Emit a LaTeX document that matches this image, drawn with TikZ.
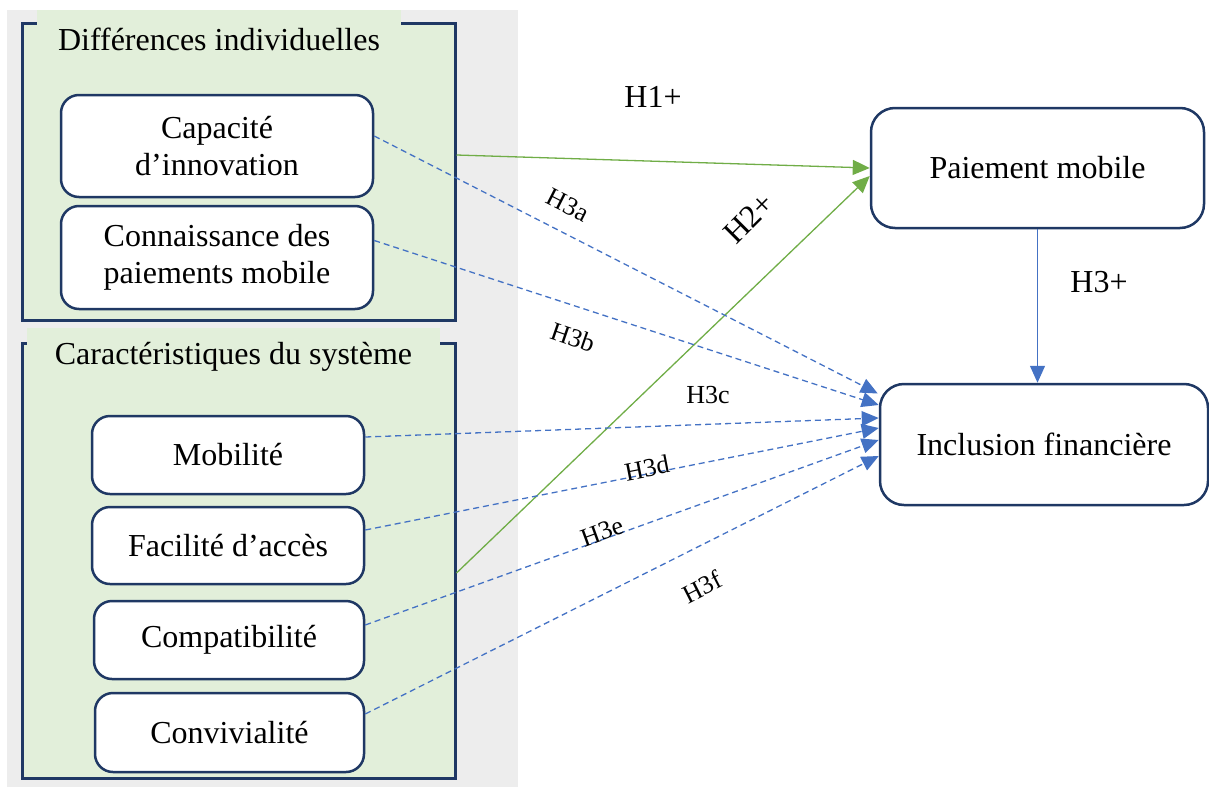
\documentclass[tikz,border=0pt]{standalone}
\usepackage{fontspec}
\setmainfont{Liberation Serif}
\usetikzlibrary{arrows.meta}
\definecolor{framenavy}{HTML}{1F3864}
\definecolor{panelgreen}{HTML}{E2EFDA}
\definecolor{panelgrey}{HTML}{EDEDED}
\definecolor{hypgreen}{HTML}{70AD47}
\definecolor{hypblue}{HTML}{4472C4}
\tikzset{
  panel/.style={
    draw=framenavy,
    line width=3pt,
    fill=panelgreen,
    inner sep=0pt
  },
  paneltitle/.style={
    fill=panelgreen,
    inner sep=0pt,
    font=\fontsize{32}{37}\selectfont
  },
  varbox/.style={
    draw=framenavy,
    line width=2.5pt,
    fill=white,
    rounded corners=18pt,
    align=center,
    inner sep=0pt,
    font=\fontsize{32}{37}\selectfont
  },
  hypgreenline/.style={
    draw=hypgreen,
    line width=1.3pt,
    -{Triangle[length=17pt,width=15pt]}
  },
  modline/.style={
    draw=hypblue,
    line width=1.3pt,
    dash pattern=on 6pt off 4pt,
    -{Triangle[length=17pt,width=15pt]}
  },
  linkline/.style={
    draw=hypblue,
    line width=1.3pt,
    -{Triangle[length=17pt,width=15pt]}
  },
  hyplabel/.style={font=\fontsize{32}{37}\selectfont, inner sep=0pt},
  sublabel/.style={font=\fontsize{26}{30}\selectfont, inner sep=0pt}
}

\begin{document}
\begin{tikzpicture}[x=1pt, y=-1pt]
  \useasboundingbox (0,0) rectangle (1209,787);
  \fill[panelgrey] (7,10) rectangle (518,787);

  % the two groups of variables
  \node[panel, minimum width=433pt, minimum height=297pt] (indiv) at (238.5,171.5) {};
  \node[paneltitle, minimum width=364pt, minimum height=58pt] (indivtitle) at (219,39) {Différences individuelles};
  \node[panel, minimum width=433pt, minimum height=435pt] (syst) at (238.5,560.5) {};
  \node[paneltitle, minimum width=413pt, minimum height=58pt] (systtitle) at (233.5,357) {Caractéristiques du système};

  \node[varbox, minimum width=312pt, minimum height=102pt] (capa) at (217,146) {Capacité\\d’innovation};
  \node[varbox, minimum width=312pt, minimum height=103pt] (conn) at (217,257.5) {Connaissance des\\paiements mobile};
  \node[varbox, minimum width=272pt, minimum height=78pt] (mobi) at (228,455) {Mobilité};
  \node[varbox, minimum width=272pt, minimum height=77pt] (faci) at (228,545.5) {Facilité d’accès};
  \node[varbox, minimum width=270pt, minimum height=78pt] (compa) at (229,640) {Compatibilité};
  \node[varbox, minimum width=269pt, minimum height=79pt] (convi) at (229.5,732.5) {Convivialité};

  % outcomes
  \node[varbox, rounded corners=24pt, minimum width=333pt, minimum height=120pt] (paie) at (1037.5,168) {Paiement mobile};
  \node[varbox, rounded corners=24pt, minimum width=328pt, minimum height=121pt] (incl) at (1044,444.5) {Inclusion financière};

  % hypotheses
  \draw[hypgreenline] ([yshift=16.5pt]indiv.east) -- (paie.west);
  \draw[hypgreenline] ([yshift=-12.5pt]syst.east) -- ([yshift=-8pt]paie.west);
  \draw[linkline] (paie.south) -- (paie.south |- incl.north);

  \draw[modline] ([yshift=10pt]capa.east) -- ([xshift=-1pt,yshift=51pt]incl.west);
  \draw[modline] ([yshift=17pt]conn.east) -- ([yshift=39.5pt]incl.west);
  \draw[modline] ([yshift=18pt]mobi.east) -- ([yshift=26.5pt]incl.west);
  \draw[modline] ([yshift=15.5pt]faci.east) -- ([yshift=16.5pt]incl.west);
  \draw[modline] ([yshift=15pt]compa.east) -- ([yshift=4.5pt]incl.west);
  \draw[modline] ([yshift=18.5pt]convi.east) -- ([yshift=-11.5pt]incl.west);

  \node[hyplabel] (lbone) at (653,97) {H1+};
  \node[hyplabel, rotate=45] (lbtwo) at (749,218) {H2+};
  \node[hyplabel] (lbthree) at (1099,282) {H3+};
  \node[sublabel, rotate=-27] (lba) at (568,205) {H3a};
  \node[sublabel, rotate=-19] (lbb) at (573,337) {H3b};
  \node[sublabel] (lbc) at (708,395) {H3c};
  \node[sublabel, rotate=11] (lbd) at (647,468) {H3d};
  \node[sublabel, rotate=20] (lbe) at (602,532) {H3e};
  \node[sublabel, rotate=27] (lbf) at (702,587) {H3f};
\end{tikzpicture}
\end{document}
